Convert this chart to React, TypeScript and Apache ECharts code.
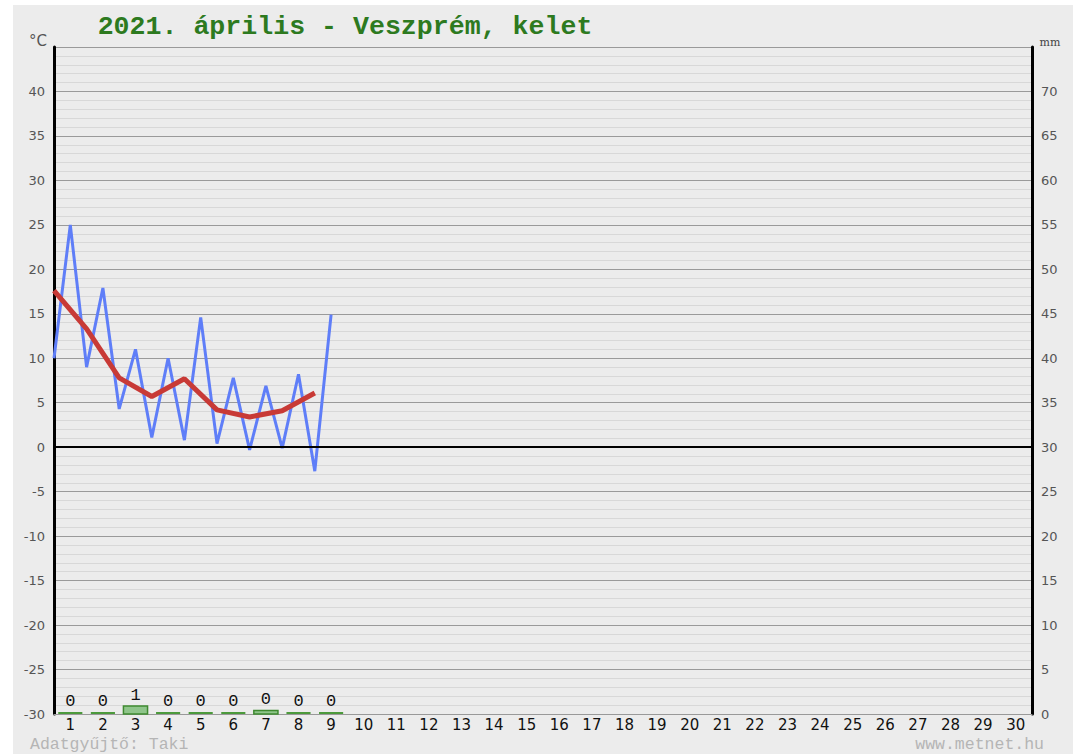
import React, { useEffect, useRef } from "react";
import * as echarts from "echarts";

const dayLabels: string[] = Array.from({ length: 30 }, (_, i) => String(i + 1));
// Blue line: alternating daily min/max readings (half-day steps from day 1 start)
const tempSteps: number[] = [0, 0.5, 1, 1.5, 2, 2.5, 3, 3.5, 4, 4.5, 5, 5.5, 6, 6.5, 7, 7.5, 8, 8.5];
const tempValues: number[] = [10, 25, 9, 17.9, 4.3, 11, 1.1, 10, 0.8, 14.6, 0.4, 7.8, -0.3, 6.9, -0.1, 8.2, -2.7, 14.9];
// Red line: daily mean at day boundaries
const meanSteps: number[] = [0, 1, 2, 3, 4, 5, 6, 7, 8];
const meanValues: number[] = [17.6, 13.3, 7.8, 5.7, 7.7, 4.2, 3.4, 4.1, 6.1];
// Precipitation (mm) per day
const precipDays: number[] = [1, 2, 3, 4, 5, 6, 7, 8, 9];
const precipValues: number[] = [0, 0, 0.9, 0, 0, 0, 0.4, 0, 0];

export default function App() {
  const ref = useRef<HTMLDivElement>(null);
  useEffect(() => {
    if (!ref.current) return;
    const chart = echarts.init(ref.current, undefined, { renderer: "svg" });
    const mono = "'Liberation Mono', 'DejaVu Sans Mono', monospace";
    const option: any = {
      animation: false,
      backgroundColor: "#ececec",
      grid: { left: 41, right: 41, top: 42, bottom: 40, containLabel: false },
      graphic: [
        {
          type: "text",
          x: 332,
          y: 22,
          style: {
            text: "2021. április - Veszprém, kelet",
            font: "bold 26.6px " + mono,
            fill: "#2d7a1f",
            align: "center",
            verticalAlign: "middle",
          },
        },
        {
          type: "text",
          x: 25,
          y: 36,
          style: { text: "°C", font: "15px 'DejaVu Sans'", fill: "#555", align: "center", verticalAlign: "middle" },
        },
        {
          type: "text",
          x: 1037,
          y: 37,
          style: { text: "mm", font: "11px 'DejaVu Serif'", fill: "#444", align: "center", verticalAlign: "middle" },
        },
        {
          type: "text",
          x: 17,
          y: 739,
          style: { text: "Adatgyűjtő: Taki", font: "16.5px " + mono, fill: "#b5b5b5", align: "left", verticalAlign: "middle" },
        },
        {
          type: "text",
          x: 1031,
          y: 739,
          style: { text: "www.metnet.hu", font: "16.5px " + mono, fill: "#b5b5b5", align: "right", verticalAlign: "middle" },
        },
      ],
      xAxis: [
        { type: "value", min: 0, max: 30, show: false },
        {
          type: "category",
          data: dayLabels,
          boundaryGap: true,
          position: "bottom",
          axisLine: { show: true, lineStyle: { color: "#999", width: 1 } },
          axisTick: { show: false },
          splitLine: { show: false },
          axisLabel: { color: "#111", fontSize: 15, fontFamily: "DejaVu Sans", margin: 3, interval: 0 },
        },
      ],
      yAxis: [
        {
          type: "value",
          min: -30,
          max: 45,
          interval: 5,
          position: "left",
          axisLine: { show: true, lineStyle: { color: "#000", width: 3 } },
          axisTick: { show: false },
          axisLabel: {
            color: "#555",
            fontSize: 13,
            fontFamily: "DejaVu Sans",
            margin: 9,
            formatter: (v: number) => (v === 45 ? "" : String(v)),
          },
          splitLine: { show: true, lineStyle: { color: "#9a9a9a", width: 1 } },
          minorTick: { show: false, splitNumber: 5 },
          minorSplitLine: { show: true, lineStyle: { color: "#d8d8d8", width: 1 } },
        },
        {
          type: "value",
          min: 0,
          max: 75,
          interval: 5,
          position: "right",
          axisLine: { show: true, lineStyle: { color: "#000", width: 3 } },
          axisTick: { show: false },
          axisLabel: {
            color: "#555",
            fontSize: 13,
            fontFamily: "DejaVu Sans",
            margin: 9,
            formatter: (v: number) => (v === 75 ? "" : String(v)),
          },
          splitLine: { show: false },
        },
      ],
      series: [
        {
          type: "line",
          xAxisIndex: 0,
          yAxisIndex: 0,
          data: tempSteps.map((s, i) => [s, tempValues[i]]),
          showSymbol: false,
          lineStyle: { color: "#5f7ef8", width: 3 },
          z: 3,
          markLine: {
            silent: true,
            symbol: "none",
            label: { show: false },
            lineStyle: { color: "#000", width: 2, type: "solid" },
            data: [{ yAxis: 0 }],
          },
        },
        {
          type: "line",
          xAxisIndex: 0,
          yAxisIndex: 0,
          data: meanSteps.map((s, i) => [s, meanValues[i]]),
          showSymbol: false,
          lineStyle: { color: "#c83a36", width: 5 },
          z: 4,
        },
        {
          type: "custom",
          xAxisIndex: 0,
          yAxisIndex: 1,
          data: precipDays.map((d, i) => [d, precipValues[i]]),
          renderItem: (params: any, api: any) => {
            const d = api.value(0);
            const v = api.value(1);
            const base = api.coord([d - 0.5, 0]);
            const top = api.coord([d - 0.5, v]);
            const w = api.size([0.74, 0])[0];
            const h = base[1] - top[1];
            const children: any[] = [];
            if (h < 2) {
              children.push({
                type: "rect",
                shape: { x: base[0] - w / 2, y: base[1] - 2, width: w, height: 2 },
                style: { fill: "#4c9a3c" },
              });
            } else {
              children.push({
                type: "rect",
                shape: { x: base[0] - w / 2, y: top[1], width: w, height: h },
                style: { fill: "#8fc58a", stroke: "#3f8a30", lineWidth: 1.5 },
              });
            }
            children.push({
              type: "text",
              x: base[0],
              y: Math.min(top[1], base[1] - 2) - 2,
              style: {
                text: String(Math.round(v)),
                font: "17px " + mono,
                fill: "#111",
                align: "center",
                verticalAlign: "bottom",
              },
            });
            return { type: "group", children };
          },
          z: 5,
        },
      ],
    };
    chart.setOption(option);
    return () => chart.dispose();
  }, []);
  return (
    <div style={{ position: "absolute", left: 0, top: 0, width: 1073, height: 754, background: "#fff" }}>
      <div ref={ref} style={{ position: "absolute", left: 13, top: 5, width: 1060, height: 749 }} />
    </div>
  );
}
